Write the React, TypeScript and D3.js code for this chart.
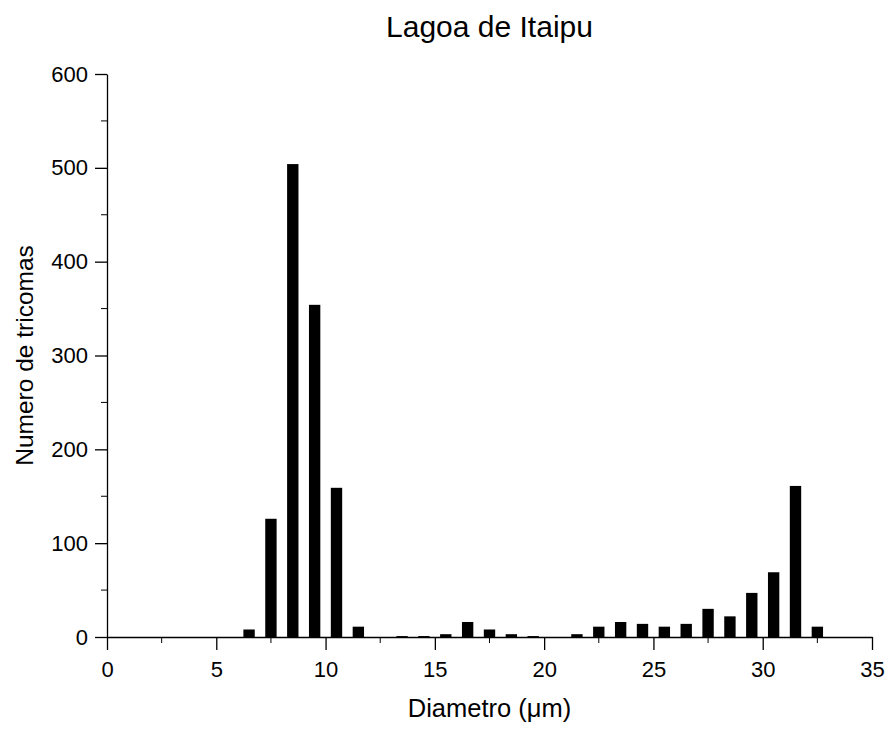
import React, { useRef, useEffect } from "react";
import * as d3 from "d3";

// histogram of trichome diameters
const binCenters = [
  6.5, 7.5, 8.5, 9.5, 10.5, 11.5, 12.5, 13.5, 14.5, 15.5, 16.5, 17.5, 18.5,
  19.5, 20.5, 21.5, 22.5, 23.5, 24.5, 25.5, 26.5, 27.5, 28.5, 29.5, 30.5,
  31.5, 32.5,
];
const counts = [
  8, 126, 504, 354, 159, 11, 0, 1, 1, 3, 16, 8, 3, 1, 0, 3, 11, 16, 14, 11,
  14, 30, 22, 47, 69, 161, 11,
];
const xTicks = [0, 5, 10, 15, 20, 25, 30, 35];
const xMinorTicks = [2.5, 7.5, 12.5, 17.5, 22.5, 27.5, 32.5];
const yTicks = [0, 100, 200, 300, 400, 500, 600];
const yMinorTicks = [50, 150, 250, 350, 450, 550];

const W = 891;
const H = 729;
const FONT = "'Liberation Sans', Arial, Helvetica, sans-serif";

const App = () => {
  const chartRef = useRef<SVGSVGElement>(null);

  useEffect(() => {
    const svg = d3.select(chartRef.current);
    svg.selectAll("*").remove();

    const margin = { top: 74, right: 19, bottom: 92, left: 107 };
    const x = d3
      .scaleLinear()
      .domain([0, 35])
      .range([margin.left, W - margin.right]);
    const y = d3
      .scaleLinear()
      .domain([0, 600])
      .range([H - margin.bottom, margin.top]);

    // bars
    svg
      .append("g")
      .selectAll("rect")
      .data(binCenters.map((c, i) => ({ c, v: counts[i] })).filter((d) => d.v > 0))
      .enter()
      .append("rect")
      .attr("x", (d) => x(d.c - 0.26))
      .attr("width", (d) => x(d.c + 0.26) - x(d.c - 0.26))
      .attr("y", (d) => y(d.v))
      .attr("height", (d) => y(0) - y(d.v))
      .attr("fill", "#000");

    // x axis
    const gx = svg
      .append("g")
      .attr("transform", `translate(0,${y(0)})`)
      .call(
        d3
          .axisBottom(x)
          .tickValues(xTicks)
          .tickSize(13)
          .tickSizeOuter(0)
          .tickPadding(11)
          .tickFormat(d3.format("d"))
      );
    gx.append("g")
      .selectAll("line")
      .data(xMinorTicks)
      .enter()
      .append("line")
      .attr("x1", (d) => x(d))
      .attr("x2", (d) => x(d))
      .attr("y1", 0)
      .attr("y2", 6)
      .attr("stroke", "#000");

    // y axis
    const gy = svg
      .append("g")
      .attr("transform", `translate(${x(0)},0)`)
      .call(
        d3
          .axisLeft(y)
          .tickValues(yTicks)
          .tickSize(12)
          .tickSizeOuter(0)
          .tickPadding(7)
          .tickFormat(d3.format("d"))
      );
    gy.append("g")
      .selectAll("line")
      .data(yMinorTicks)
      .enter()
      .append("line")
      .attr("x1", 0)
      .attr("x2", -6)
      .attr("y1", (d) => y(d))
      .attr("y2", (d) => y(d))
      .attr("stroke", "#000");

    svg
      .selectAll(".domain, .tick line")
      .attr("stroke", "#000")
      .attr("stroke-width", 1.3);
    svg
      .selectAll(".tick text")
      .attr("fill", "#000")
      .style("font-family", FONT)
      .style("font-size", "22px");

    // title
    svg
      .append("text")
      .attr("x", (x(0) + x(35)) / 2)
      .attr("y", 37)
      .attr("text-anchor", "middle")
      .style("font-family", FONT)
      .style("font-size", "30px")
      .text("Lagoa de Itaipu");

    // axis labels
    svg
      .append("text")
      .attr("x", (x(0) + x(35)) / 2)
      .attr("y", 717)
      .attr("text-anchor", "middle")
      .style("font-family", FONT)
      .style("font-size", "25.5px")
      .text("Diametro (μm)");

    svg
      .append("text")
      .attr("transform", `translate(33,${(y(0) + y(600)) / 2}) rotate(-90)`)
      .attr("text-anchor", "middle")
      .style("font-family", FONT)
      .style("font-size", "24.5px")
      .text("Numero de tricomas");
  }, []);

  return (
    <svg
      ref={chartRef}
      width={W}
      height={H}
      style={{ position: "absolute", left: 0, top: 0, background: "#fff" }}
    />
  );
};

export default App;
